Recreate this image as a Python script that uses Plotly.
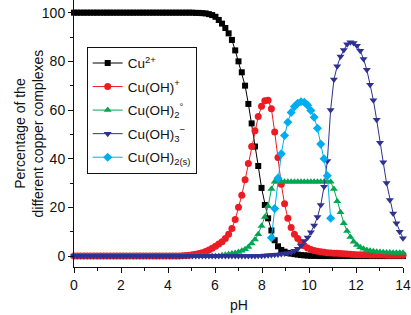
import plotly.graph_objects as go

# pH grid (0 to 14, step 0.14)
ph = [round(i * 0.14, 2) for i in range(101)]

cu2 = [100, 100, 100, 100, 100, 100, 100, 100, 100, 100,
       100, 100, 100, 100, 100, 100, 100, 100, 100, 100,
       100, 100, 100, 100, 100, 100, 100, 100, 100, 100,
       100, 100, 100, 100, 100, 100, 100, 99.9, 99.9, 99.8,
       99.7, 99.4, 99.0, 98.3, 97.0, 95.5, 93.7, 91.5, 88.8, 84.5,
       80.0, 75.5, 70.0, 62.5, 54.5, 45.0, 37.0, 28.0, 21.0, 15.5,
       10.5, 6.5, 4.0, 2.5, 1.8, 1.3, 1.0, 0.8, 0.6, 0.4,
       0.3, 0.2, 0.1, 0.1, 0.05, 0, 0, 0, 0, 0,
       0, 0, 0, 0, 0, 0, 0, 0, 0, 0,
       0, 0, 0, 0, 0, 0, 0, 0, 0, 0,
       0]

cuoh = [0, 0, 0, 0, 0, 0, 0, 0, 0, 0,
        0, 0, 0, 0, 0, 0, 0, 0, 0, 0,
        0, 0, 0, 0, 0, 0, 0, 0, 0, 0,
        0, 0, 0, 0.1, 0.2, 0.3, 0.5, 0.7, 1.0, 1.4,
        1.9, 2.5, 3.2, 4.0, 4.9, 5.9, 7.2, 9.0, 11.3, 15.0,
        20.0, 25.0, 31.3, 38.0, 45.0, 51.5, 57.3, 61.5, 63.8, 64.0,
        60.5, 51.0, 40.5, 29.5, 21.5, 15.5, 11.7, 9.0, 7.2, 5.5,
        4.2, 3.3, 2.7, 2.3, 2.0, 1.8, 1.6, 1.4, 1.3, 1.2,
        1.1, 1.0, 0.9, 0.8, 0.7, 0.6, 0.5, 0.5, 0.5, 0.5,
        0.4, 0.4, 0.4, 0.4, 0.4, 0.3, 0.3, 0.3, 0.3, 0.3,
        0.3]

cuoh2 = [0, 0, 0, 0, 0, 0, 0, 0, 0, 0,
         0, 0, 0, 0, 0, 0, 0, 0, 0, 0,
         0, 0, 0, 0, 0, 0, 0, 0, 0, 0,
         0, 0, 0, 0, 0, 0, 0, 0, 0, 0,
         0, 0, 0, 0, 0, 0.3, 0.5, 0.7, 1.0, 1.3,
         1.7, 2.2, 2.8, 3.7, 5.2, 6.8, 9.0, 12.3, 16.0, 20.5,
         27.5, 30.5, 30.5, 30.5, 30.5, 30.5, 30.5, 30.5, 30.5, 30.5,
         30.5, 30.5, 30.5, 30.5, 30.5, 30.5, 30.5, 30.5, 30.5, 27.5,
         22.5, 18.0, 13.5, 10.3, 7.8, 5.9, 4.5, 3.6, 3.0, 2.5,
         2.2, 2.0, 1.8, 1.7, 1.6, 1.5, 1.5, 1.4, 1.4, 1.4,
         1.4]

cuoh3 = [0, 0, 0, 0, 0, 0, 0, 0, 0, 0,
         0, 0, 0, 0, 0, 0, 0, 0, 0, 0,
         0, 0, 0, 0, 0, 0, 0, 0, 0, 0,
         0, 0, 0, 0, 0, 0, 0, 0, 0, 0,
         0, 0, 0, 0, 0, 0, 0, 0, 0, 0,
         0, 0, 0, 0, 0, 0, 0.1, 0.1, 0.2, 0.3,
         0.4, 0.5, 0.6, 0.8, 1.0, 1.2, 1.5, 2.2, 3.0, 4.2,
         6.2, 7.6, 9.8, 12.6, 16.0, 21.0, 28.5, 39.0, 60.0, 72.5,
         78.0, 82.0, 84.7, 87.0, 87.8, 87.5, 86.4, 84.4, 81.0, 76.5,
         70.4, 64.0, 56.0, 46.5, 38.5, 30.0, 23.0, 17.5, 13.5, 10.0,
         7.3]

cuoh2s = [None] * 60 + [7.5, 19.5, 32.0, 42.0, 49.5, 55.0, 59.0, 61.4, 62.8, 63.4,
                        63.2, 62.0, 59.8, 57.0, 52.5, 46.0, 40.0, 33.0, 15.5] + [None] * 22

names = ["Cu<sup>2+</sup>", "Cu(OH)<sup>+</sup>", "Cu(OH)<sub>2</sub><sup>°</sup>",
         "Cu(OH)<sub>3</sub><sup>−</sup>", "Cu(OH)<sub>2(s)</sub>"]
series = [cu2, cuoh, cuoh2, cuoh3, cuoh2s]
colors = ["#000000", "#ED1C24", "#00A651", "#2E3192", "#00AEEF"]
symbols = ["square", "circle", "triangle-up", "triangle-down", "diamond"]
sizes = [6, 7, 7, 7, 7]

fig = go.Figure()
for k, (nm, ys, c, s, sz) in enumerate(zip(names, series, colors, symbols, sizes)):
    fig.add_trace(go.Scatter(
        x=ph, y=ys, name=nm, mode="lines+markers", legendgroup=f"g{k}",
        line=dict(color=c, width=1),
        marker=dict(symbol=s, size=sz, color=c, line=dict(width=0)),
        cliponaxis=False, connectgaps=False, hoverinfo="skip"))

font = "Liberation Sans, Arial, sans-serif"
ink = "#111111"
fig.update_layout(
    width=411, height=315,
    margin=dict(l=74, r=8, t=0, b=48, autoexpand=False),
    plot_bgcolor="white", paper_bgcolor="white",
    font=dict(family=font, size=14, color=ink),
    showlegend=True, hovermode=False,
    legend=dict(x=0.0386, y=0.825, xanchor="left", yanchor="top",
                bordercolor=ink, borderwidth=1, bgcolor="white",
                font=dict(size=13.5), tracegroupgap=3,
                itemwidth=30),
    xaxis=dict(range=[0, 14], tickmode="linear", tick0=0, dtick=2,
               showline=True, linecolor=ink, linewidth=1, automargin=False,
               ticks="outside", ticklen=5, tickcolor=ink,
               minor=dict(ticks="outside", ticklen=3, dtick=1, tickcolor=ink),
               showgrid=False, zeroline=False),
    yaxis=dict(range=[-4.5, 105.2], tickmode="linear", tick0=0, dtick=20,
               showline=True, linecolor=ink, linewidth=1, automargin=False,
               ticks="outside", ticklen=5, tickcolor=ink,
               minor=dict(ticks="outside", ticklen=3, dtick=10, tickcolor=ink),
               showgrid=False, zeroline=False),
    annotations=[
        dict(text="pH", xref="paper", yref="paper", x=0.5, y=0,
             xanchor="center", yanchor="top", yshift=-28, showarrow=False,
             font=dict(size=14, family=font, color=ink)),
        dict(text="Percentage of the<br>different copper complexes",
             xref="paper", yref="paper", x=0, y=0.5, textangle=-90,
             xanchor="center", yanchor="middle", xshift=-46, showarrow=False,
             font=dict(size=14, family=font, color=ink)),
    ],
)

fig.write_html("out.html", config={"displayModeBar": False},
               post_script="document.body.style.margin='0';document.body.style.overflow='hidden';")
